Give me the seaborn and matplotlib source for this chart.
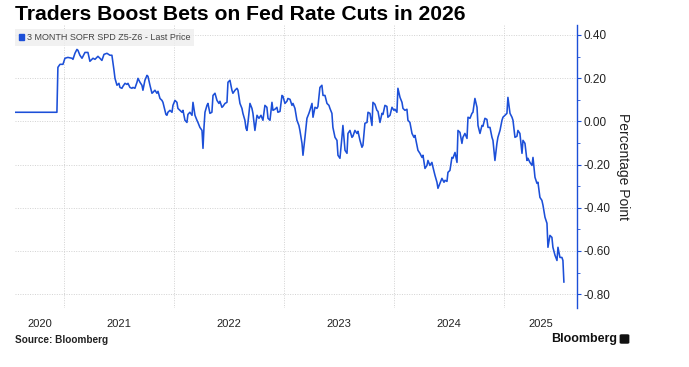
import numpy as np
import pandas as pd
import matplotlib
matplotlib.use("Agg")
import matplotlib.pyplot as plt
import matplotlib.ticker as mticker
from matplotlib.patches import Patch, FancyBboxPatch
import seaborn as sns

# ---------------- data (decimal year, percentage point) ----------------
t_2020 = [2020.555, 2020.936, 2020.945, 2020.964, 2020.991]
v_2020 = [0.042, 0.042, 0.250, 0.264, 0.264]

t_2021 = [2021.009, 2021.036, 2021.073, 2021.082, 2021.100, 2021.118, 2021.127, 2021.145,
          2021.164, 2021.191, 2021.218, 2021.236, 2021.264, 2021.282, 2021.309, 2021.327,
          2021.345, 2021.364, 2021.391, 2021.418, 2021.436, 2021.455, 2021.464, 2021.482,
          2021.500, 2021.509, 2021.527, 2021.536, 2021.555, 2021.573, 2021.582, 2021.600,
          2021.618, 2021.627, 2021.645, 2021.664, 2021.673, 2021.691, 2021.709, 2021.718,
          2021.736, 2021.755, 2021.764, 2021.782, 2021.800, 2021.809, 2021.827, 2021.845,
          2021.855, 2021.873, 2021.891, 2021.900, 2021.918, 2021.927, 2021.936, 2021.945,
          2021.964, 2021.982, 2021.991]
v_2021 = [0.292, 0.296, 0.292, 0.287, 0.315, 0.333, 0.329, 0.306,
          0.292, 0.319, 0.319, 0.278, 0.292, 0.287, 0.301, 0.292,
          0.282, 0.310, 0.315, 0.306, 0.306, 0.236, 0.199, 0.167,
          0.176, 0.157, 0.153, 0.162, 0.176, 0.171, 0.176, 0.157,
          0.153, 0.157, 0.153, 0.181, 0.199, 0.181, 0.167, 0.144,
          0.190, 0.213, 0.208, 0.167, 0.130, 0.134, 0.144, 0.130,
          0.139, 0.106, 0.097, 0.088, 0.051, 0.032, 0.028, 0.042,
          0.051, 0.042, 0.074]

t_2022 = [2022.009, 2022.027, 2022.036, 2022.055, 2022.073, 2022.082, 2022.100, 2022.118,
          2022.127, 2022.145, 2022.164, 2022.173, 2022.191, 2022.209, 2022.218, 2022.236,
          2022.255, 2022.264, 2022.273, 2022.282, 2022.300, 2022.309, 2022.327, 2022.345,
          2022.355, 2022.373, 2022.391, 2022.409, 2022.418, 2022.436, 2022.445, 2022.464,
          2022.482, 2022.491, 2022.509, 2022.527, 2022.536, 2022.555, 2022.573, 2022.582,
          2022.600, 2022.618, 2022.627, 2022.645, 2022.655, 2022.664, 2022.673, 2022.691,
          2022.709, 2022.718, 2022.736, 2022.755, 2022.773, 2022.791, 2022.809, 2022.827,
          2022.845, 2022.855, 2022.873, 2022.891, 2022.900, 2022.918, 2022.936, 2022.945,
          2022.964, 2022.982, 2022.991]
v_2022 = [0.097, 0.088, 0.060, 0.051, 0.042, 0.051, 0.005, -0.005,
          0.032, 0.042, 0.028, 0.088, 0.028, 0.005, -0.005, -0.028,
          -0.042, -0.125, -0.028, 0.042, 0.074, 0.083, 0.037, 0.042,
          0.120, 0.130, 0.097, 0.083, 0.093, 0.065, 0.069, 0.083,
          0.088, 0.181, 0.190, 0.144, 0.130, 0.144, 0.153, 0.144,
          0.083, 0.060, 0.037, 0.005, -0.032, -0.042, -0.005, 0.083,
          0.060, 0.037, -0.042, 0.028, 0.014, 0.028, 0.005, 0.074,
          0.065, 0.014, 0.005, 0.088, 0.051, 0.056, 0.065, 0.042,
          0.046, 0.120, 0.116]

t_2023 = [2023.009, 2023.027, 2023.036, 2023.055, 2023.073, 2023.082, 2023.100, 2023.118,
          2023.136, 2023.145, 2023.164, 2023.173, 2023.191, 2023.209, 2023.227, 2023.236,
          2023.255, 2023.264, 2023.282, 2023.300, 2023.309, 2023.327, 2023.345, 2023.355,
          2023.373, 2023.391, 2023.409, 2023.418, 2023.436, 2023.445, 2023.464, 2023.482,
          2023.491, 2023.509, 2023.527, 2023.536, 2023.555, 2023.573, 2023.582, 2023.600,
          2023.618, 2023.627, 2023.645, 2023.664, 2023.673, 2023.691, 2023.709, 2023.718,
          2023.736, 2023.755, 2023.764, 2023.782, 2023.800, 2023.809, 2023.827, 2023.845,
          2023.855, 2023.873, 2023.891, 2023.900, 2023.918, 2023.936, 2023.945, 2023.964,
          2023.982]
v_2023 = [0.083, 0.093, 0.106, 0.102, 0.074, 0.083, 0.060, 0.005,
          -0.019, -0.042, -0.102, -0.157, -0.074, 0.014, 0.037, 0.051,
          0.083, 0.019, 0.065, 0.060, 0.069, 0.157, 0.167, 0.120,
          0.120, 0.083, 0.074, 0.060, 0.037, -0.028, -0.074, -0.088,
          -0.157, -0.171, -0.074, -0.019, -0.134, -0.148, -0.056, -0.042,
          -0.074, -0.069, -0.042, -0.056, -0.046, -0.088, -0.120, -0.111,
          -0.009, -0.005, 0.042, 0.037, -0.019, 0.088, 0.079, 0.051,
          0.046, -0.005, 0.037, 0.032, 0.074, 0.069, 0.019, 0.028,
          0.065]

t_2024 = [2024.000, 2024.009, 2024.027, 2024.036, 2024.055, 2024.073, 2024.082, 2024.100,
          2024.118, 2024.127, 2024.145, 2024.164, 2024.182, 2024.191, 2024.209, 2024.218,
          2024.236, 2024.255, 2024.264, 2024.282, 2024.300, 2024.309, 2024.327, 2024.345,
          2024.355, 2024.373, 2024.391, 2024.400, 2024.418, 2024.436, 2024.455, 2024.464,
          2024.482, 2024.491, 2024.509, 2024.527, 2024.536, 2024.555, 2024.573, 2024.582,
          2024.600, 2024.618, 2024.627, 2024.645, 2024.664, 2024.673, 2024.691, 2024.709,
          2024.718, 2024.736, 2024.755, 2024.764, 2024.782, 2024.800, 2024.809, 2024.827,
          2024.845, 2024.855, 2024.873, 2024.891, 2024.900, 2024.918, 2024.936, 2024.945,
          2024.964, 2024.982, 2024.991]
v_2024 = [0.051, 0.056, 0.042, 0.153, 0.111, 0.088, 0.060, 0.051,
          0.056, 0.005, -0.005, -0.056, -0.074, -0.065, -0.111, -0.134,
          -0.148, -0.167, -0.157, -0.218, -0.204, -0.181, -0.204, -0.190,
          -0.213, -0.250, -0.282, -0.310, -0.287, -0.264, -0.282, -0.273,
          -0.278, -0.236, -0.227, -0.167, -0.171, -0.144, -0.190, -0.042,
          -0.051, -0.102, -0.074, -0.056, -0.079, 0.019, 0.014, 0.037,
          0.042, 0.106, 0.065, -0.019, -0.056, -0.019, -0.023, 0.014,
          0.009, -0.028, -0.028, -0.074, -0.088, -0.181, -0.102, -0.074,
          -0.042, 0.005, 0.019]

t_2025 = [2025.009, 2025.027, 2025.036, 2025.055, 2025.073, 2025.082, 2025.100, 2025.118,
          2025.127, 2025.145, 2025.164, 2025.173, 2025.191, 2025.209, 2025.218, 2025.236,
          2025.255, 2025.264, 2025.282, 2025.300, 2025.309, 2025.327, 2025.345, 2025.355,
          2025.373, 2025.391, 2025.400, 2025.418, 2025.436, 2025.445, 2025.464, 2025.482,
          2025.491, 2025.509, 2025.527, 2025.536, 2025.545]
v_2025 = [0.028, 0.037, 0.111, 0.037, 0.019, 0.005, -0.074, -0.069,
          -0.042, -0.056, -0.148, -0.088, -0.102, -0.181, -0.171, -0.190,
          -0.204, -0.167, -0.259, -0.287, -0.282, -0.352, -0.366, -0.389,
          -0.444, -0.472, -0.583, -0.528, -0.537, -0.583, -0.620, -0.644,
          -0.583, -0.630, -0.630, -0.644, -0.745]

year_labels = ["2020", "2021", "2022", "2023", "2024", "2025"]
series_name = "3 MONTH SOFR SPD Z5-Z6 - Last Price"
title = "Traders Boost Bets on Fed Rate Cuts in 2026"
y_title = "Percentage Point"
source = "Source: Bloomberg"
y_ticks = [0.40, 0.20, 0.00, -0.20, -0.40, -0.60, -0.80]

# ---------------- build frame ----------------
df = pd.DataFrame({
    "t": t_2020 + t_2021 + t_2022 + t_2023 + t_2024 + t_2025,
    "v": v_2020 + v_2021 + v_2022 + v_2023 + v_2024 + v_2025,
})

BLUE = "#1c4fd8"
GRID = "#d2d2d2"
TXT = "#222222"

sns.set_theme(style="white")
plt.rcParams["font.family"] = ["Liberation Sans", "DejaVu Sans"]
plt.rcParams["axes.unicode_minus"] = False

fig = plt.figure(figsize=(6.89, 3.67), dpi=100)
ax = fig.add_axes([15 / 689, 1 - 308 / 367, (577 - 15) / 689, (308 - 25) / 367])

sns.lineplot(data=df, x="t", y="v", ax=ax, color=BLUE, linewidth=1.15, legend=False)

x0, x1 = 2020.555, 2025.664
ax.set_xlim(x0, x1)
ax.set_ylim(-0.864, 0.446)

# year boundaries (minor, gridded) and label positions (major, centred in year)
years = [int(y) for y in year_labels]
bounds = [y for y in years if x0 < y < x1]
mids = [(max(y, x0) + min(y + 1, x1)) / 2 for y in years]
ax.xaxis.set_minor_locator(mticker.FixedLocator(bounds))
ax.set_xticks(mids)
ax.set_xticklabels(year_labels)
ax.tick_params(axis="x", which="both", length=0, pad=8, labelsize=8, labelcolor=TXT)
ax.grid(which="minor", axis="x", color=GRID, linestyle=(0, (1, 1.5)), linewidth=0.7)

# y axis on the right
ax.yaxis.tick_right()
ax.yaxis.set_label_position("right")
ax.set_yticks(y_ticks)
ax.set_yticklabels([f"{round(v, 2) + 0.0:.2f}" for v in y_ticks])
ax.yaxis.set_minor_locator(mticker.MultipleLocator(0.1))
ax.tick_params(axis="y", which="major", direction="out", length=3, width=0.8,
               color=BLUE, labelsize=8.5, labelcolor=TXT, pad=1.5)
ax.tick_params(axis="y", which="minor", direction="out", length=2, width=0.6, color=BLUE)
ax.grid(which="major", axis="y", color=GRID, linestyle=(0, (1, 1.5)), linewidth=0.7)
ax.set_ylabel(y_title, rotation=270, fontsize=10, color=TXT, labelpad=14)
ax.set_xlabel("")

for s in ["top", "left", "bottom"]:
    ax.spines[s].set_visible(False)
ax.spines["right"].set_color(BLUE)
ax.spines["right"].set_linewidth(1.0)

# legend box
leg = ax.legend(handles=[Patch(facecolor=BLUE, edgecolor=BLUE, label=series_name)],
                loc="upper left", bbox_to_anchor=(0.0, 0.985), fontsize=6.5,
                frameon=True, fancybox=False, borderpad=0.45, handlelength=0.55,
                handleheight=0.55, handletextpad=0.3, borderaxespad=0.0)
leg.get_frame().set_facecolor("#eeeeee")
leg.get_frame().set_edgecolor("none")
for txt in leg.get_texts():
    txt.set_color("#444444")

# titles / footers
fig.text(15 / 689, 1 - 14 / 367, title, fontsize=15.2, fontweight="bold",
         color="#000000", ha="left", va="center")
fig.text(15 / 689, 1 - 340 / 367, source, fontsize=7.2, fontweight="bold",
         color=TXT, ha="left", va="center")
fig.text(617 / 689, 1 - 339 / 367, "Bloomberg", fontsize=9, fontweight="bold",
         color="#111111", ha="right", va="center")
fig.patches.append(FancyBboxPatch((621 / 689, 1 - 343 / 367), 7 / 689, 8 / 367,
                                  boxstyle="round,pad=0.002,rounding_size=0.003",
                                  transform=fig.transFigure, facecolor="#111111",
                                  edgecolor="none"))

fig.savefig("out.png", dpi=100)
